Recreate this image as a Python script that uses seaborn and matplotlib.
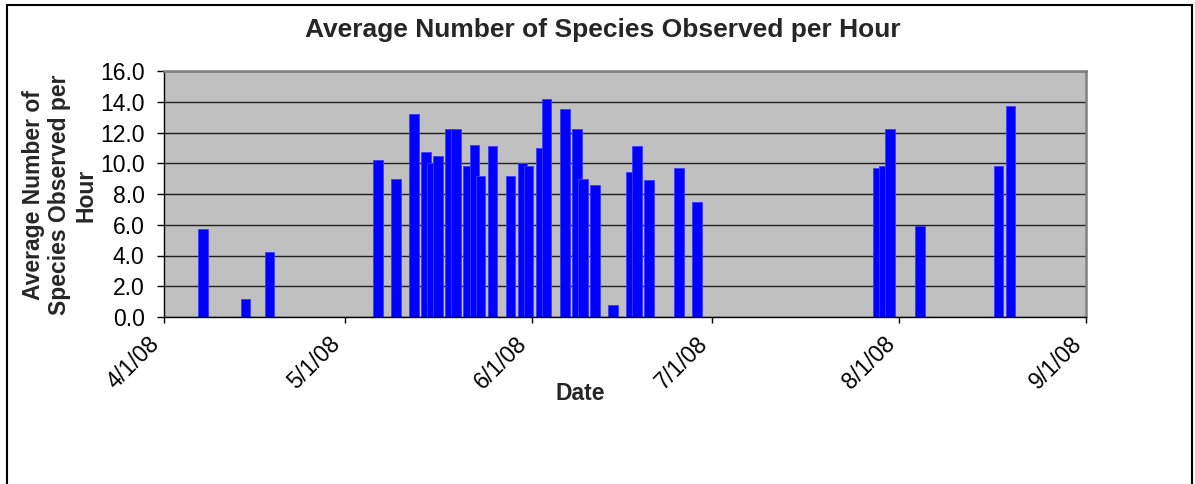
import matplotlib
matplotlib.use("Agg")
import matplotlib.pyplot as plt
import matplotlib.dates as mdates
import pandas as pd
import seaborn as sns
from matplotlib.patches import Rectangle
from matplotlib.ticker import FuncFormatter, FixedLocator


obs_dates = [
    "2008-04-07", "2008-04-14", "2008-04-18",
    "2008-05-06", "2008-05-09", "2008-05-12", "2008-05-14", "2008-05-15",
    "2008-05-16", "2008-05-18", "2008-05-19", "2008-05-21", "2008-05-22",
    "2008-05-23", "2008-05-25", "2008-05-28", "2008-05-30", "2008-05-31",
    "2008-06-02", "2008-06-03", "2008-06-06", "2008-06-08", "2008-06-09",
    "2008-06-11", "2008-06-14", "2008-06-17", "2008-06-18", "2008-06-20",
    "2008-06-25", "2008-06-28",
    "2008-07-28", "2008-07-29", "2008-07-30", "2008-08-04",
    "2008-08-17", "2008-08-19",
]
species_per_hour = [
    5.7, 1.2, 4.2,
    10.2, 9.0, 13.2, 10.7, 10.0,
    10.5, 12.2, 12.2, 9.8, 11.2,
    9.2, 11.1, 9.2, 10.0, 9.8,
    11.0, 14.2, 13.5, 12.2, 9.0,
    8.6, 0.8, 9.4, 11.1, 8.9,
    9.7, 7.5,
    9.7, 9.8, 12.2, 5.9,
    9.8, 13.7,
]
month_ticks = ["2008-04-01", "2008-05-01", "2008-06-01",
               "2008-07-01", "2008-08-01", "2008-09-01"]
y_ticks = [0, 2, 4, 6, 8, 10, 12, 14, 16]

sns.set_style("ticks", {"axes.facecolor": "#C0C0C0"})
plt.rcParams["font.family"] = ["Liberation Sans", "DejaVu Sans"]

# bars sit in the middle of their day, like Excel's date axis
df = pd.DataFrame({"date": pd.to_datetime(obs_dates), "value": species_per_hour})
df["x"] = mdates.date2num(df["date"]) + 0.5
tick_pos = mdates.date2num(pd.to_datetime(month_ticks))

fig = plt.figure(figsize=(11.95, 4.84), dpi=100)
ax = fig.add_axes([164 / 1195, 1 - 317 / 484, 922 / 1195, 246 / 484])

sns.barplot(data=df, x="x", y="value", native_scale=True, width=1.6,
            color="#0000FF", saturation=1, errorbar=None,
            edgecolor="#3a3aff", linewidth=0.6, ax=ax)

ax.set_xlim(tick_pos[0], tick_pos[-1])
ax.set_ylim(0, 16)
ax.set_yticks(y_ticks)
ax.yaxis.set_major_formatter(FuncFormatter(lambda v, _: f"{v:.1f}"))
ax.xaxis.set_major_locator(FixedLocator(tick_pos))


def fmt_date(v, _):
    d = mdates.num2date(v)
    return f"{d.month}/{d.day}/{d:%y}"


ax.xaxis.set_major_formatter(FuncFormatter(fmt_date))

ax.set_axisbelow(True)
ax.yaxis.grid(True, color="#202020", linewidth=1.0)
ax.xaxis.grid(False)

for side in ["left", "bottom"]:
    ax.spines[side].set_color("black")
    ax.spines[side].set_linewidth(1.0)
for side in ["top", "right"]:
    ax.spines[side].set_visible(True)
    ax.spines[side].set_color("#808080")
    ax.spines[side].set_linewidth(1.8)

ax.tick_params(axis="y", labelsize=16.5, length=5, width=1, pad=9, colors="black")
ax.tick_params(axis="x", labelsize=16.5, length=4, width=1, pad=19, colors="black")
for lbl in ax.get_xticklabels():
    lbl.set_rotation(45)
    lbl.set_ha("right")
    lbl.set_va("bottom")
    lbl.set_rotation_mode("anchor")

ax.set_xlabel("Date", fontsize=16.5, fontweight="bold")
ax.xaxis.label.set_va("center")
ax.xaxis.set_label_coords(0.451, -0.313)

ax.set_ylabel("Average Number of\nSpecies Observed per\nHour",
              fontsize=16.5, fontweight="bold", linespacing=1.2)
ax.yaxis.label.set_va("center")
ax.yaxis.set_label_coords(-0.113, 0.496)

fig.text(603 / 1195, 1 - 30 / 484, "Average Number of Species Observed per Hour",
         ha="center", va="center", fontsize=19, fontweight="bold")

fig.patches.append(Rectangle((7 / 1195, -0.1), 1185 / 1195, 1.1 - 5 / 484,
                             transform=fig.transFigure, fill=False,
                             edgecolor="black", linewidth=1.5))

fig.savefig("out.png", dpi=100)
plt.close(fig)
